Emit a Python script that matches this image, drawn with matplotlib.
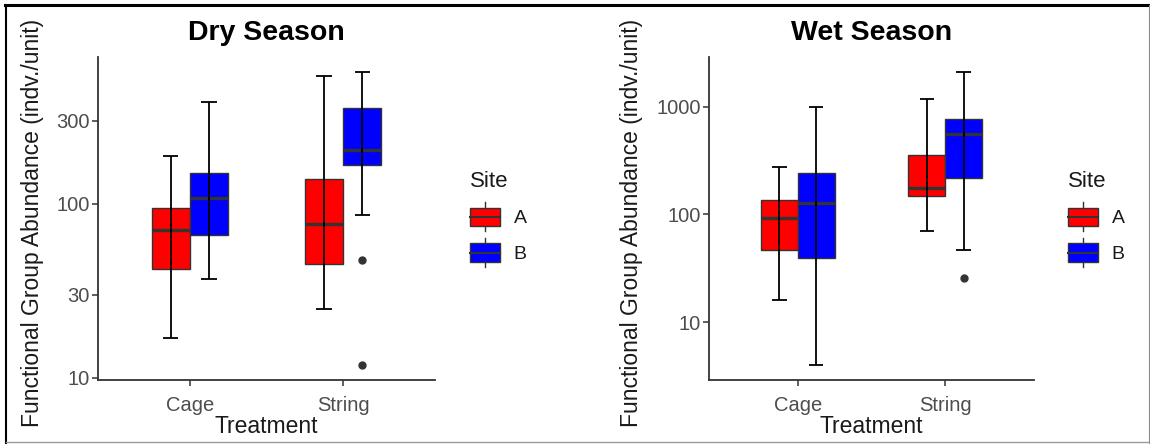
import numpy as np
import matplotlib
matplotlib.use("Agg")
from matplotlib import pyplot as plt
from matplotlib.patches import Rectangle
from matplotlib.lines import Line2D
from matplotlib.legend_handler import HandlerBase

plt.rcParams['font.family'] = ['Liberation Sans', 'DejaVu Sans']

treatments = ["Cage", "String"]
sites = ["A", "B"]
site_colors = ["#FF0000", "#0000FF"]

# Dry season, values per treatment [Cage, String]
dry_a_low = [16.9, 24.7]
dry_a_q1 = [42, 45]
dry_a_med = [71, 76]
dry_a_q3 = [94.4, 138]
dry_a_high = [188, 541]
dry_a_out = [[], []]

dry_b_low = [36.7, 86.5]
dry_b_q1 = [65.9, 166]
dry_b_med = [108, 204]
dry_b_q3 = [149, 353]
dry_b_high = [384, 572]
dry_b_out = [[], [47.2, 11.8]]

# Wet season
wet_a_low = [16.0, 70.7]
wet_a_q1 = [46.8, 149]
wet_a_med = [92.5, 176]
wet_a_q3 = [135, 358]
wet_a_high = [274, 1178]
wet_a_out = [[], []]

wet_b_low = [4.0, 47.2]
wet_b_q1 = [39.8, 218]
wet_b_med = [128, 551]
wet_b_q3 = [240, 759]
wet_b_high = [994, 2104]
wet_b_out = [[], [25.6]]

dry_yticks = [10, 30, 100, 300]
wet_yticks = [10, 100, 1000]

EDGE = '#333333'


class BoxKeyHandler(HandlerBase):
    def create_artists(self, legend, orig_handle, xdescent, ydescent,
                       width, height, fontsize, trans):
        x0, y0 = -xdescent, -ydescent
        ext = height * 0.28
        whisk = Line2D([x0 + width / 2] * 2, [y0 - ext, y0 + height + ext],
                       color=EDGE, lw=1, transform=trans)
        rect = Rectangle((x0, y0), width, height, facecolor=orig_handle.get_facecolor(),
                         edgecolor=EDGE, lw=1, transform=trans)
        med = Line2D([x0, x0 + width], [y0 + height / 2] * 2,
                     color=EDGE, lw=1.5, transform=trans)
        return [whisk, rect, med]


def make_stats(low, q1, med, q3, high, out):
    return [dict(whislo=low[i], q1=q1[i], med=med[i], q3=q3[i], whishi=high[i],
                 fliers=out[i]) for i in range(len(treatments))]


def draw_panel(ax, title, groups, yticks):
    xs = np.arange(1, len(treatments) + 1)
    allvals = []
    for j, g in enumerate(groups):
        pos = xs + (j - 0.5) * 0.25
        ax.bxp(make_stats(*g), positions=pos, widths=0.25, patch_artist=True,
               showcaps=False, manage_ticks=False,
               boxprops=dict(facecolor=site_colors[j], edgecolor=EDGE, linewidth=1),
               whiskerprops=dict(linestyle='none'),
               medianprops=dict(color=EDGE, linewidth=2.4),
               flierprops=dict(marker='o', markerfacecolor=EDGE, markeredgecolor=EDGE,
                               markersize=5))
        ax.vlines(pos, g[0], g[4], color='black', linewidth=1.3, zorder=3)
        ax.hlines(g[0], pos - 0.05, pos + 0.05, color='black', linewidth=1.3, zorder=3)
        ax.hlines(g[4], pos - 0.05, pos + 0.05, color='black', linewidth=1.3, zorder=3)
        allvals += list(g[0]) + list(g[4]) + [v for o in g[5] for v in o]
    lo, hi = np.log10(min(allvals)), np.log10(max(allvals))
    pad = 0.05 * (hi - lo)
    ax.set_yscale('log')
    ax.set_ylim(10 ** (lo - pad), 10 ** (hi + pad))
    ax.set_xlim(0.4, 2.6)
    ax.set_yticks(yticks)
    ax.set_yticklabels([str(t) for t in yticks])
    ax.minorticks_off()
    ax.set_xticks(xs)
    ax.set_xticklabels(treatments)
    for s in ['top', 'right']:
        ax.spines[s].set_visible(False)
    for s in ['left', 'bottom']:
        ax.spines[s].set_color(EDGE)
        ax.spines[s].set_linewidth(1.3)
    ax.tick_params(colors=EDGE, labelcolor='#4D4D4D', labelsize=14.5, length=4, width=1.1, pad=2)
    ax.tick_params(axis='x', pad=7.5)
    ax.set_title(title, fontsize=20.5, fontweight='bold', pad=12)
    ax.set_xlabel("Treatment", fontsize=16.5, color='#1a1a1a', labelpad=0)
    ax.set_ylabel("Functional Group Abundance (indv./unit)", fontsize=16.5, color='#1a1a1a')
    handles = [Rectangle((0, 0), 1, 1, facecolor=c, edgecolor=EDGE) for c in site_colors]
    leg = ax.legend(handles, sites, title='Site', handler_map={Rectangle: BoxKeyHandler()},
                    loc='upper left', bbox_to_anchor=(1.104, 0.648), frameon=False,
                    fontsize=14, title_fontsize=16, handlelength=1.55, handleheight=1.08,
                    labelspacing=0.82, handletextpad=0.7, borderpad=0, borderaxespad=0,
                    alignment='left')
    for t in leg.get_texts():
        t.set_color('#1a1a1a')
    leg.get_title().set_color('#1a1a1a')


fig = plt.figure(figsize=(11.5, 4.44), dpi=100)
ax1 = fig.add_axes([98 / 1150, 64 / 444, 337 / 1150, 323 / 444])
ax2 = fig.add_axes([709 / 1150, 64 / 444, 325 / 1150, 323 / 444])

draw_panel(ax1, "Dry Season",
           [(dry_a_low, dry_a_q1, dry_a_med, dry_a_q3, dry_a_high, dry_a_out),
            (dry_b_low, dry_b_q1, dry_b_med, dry_b_q3, dry_b_high, dry_b_out)],
           dry_yticks)
draw_panel(ax2, "Wet Season",
           [(wet_a_low, wet_a_q1, wet_a_med, wet_a_q3, wet_a_high, wet_a_out),
            (wet_b_low, wet_b_q1, wet_b_med, wet_b_q3, wet_b_high, wet_b_out)],
           wet_yticks)
ax1.yaxis.set_label_coords(-0.16, 0.485)
ax2.yaxis.set_label_coords(-0.203, 0.485)

# outer frame of the screenshot
fig.add_artist(Line2D([5 / 1150, 1], [1 - 5.5 / 444] * 2, color='black', lw=2.2))
fig.add_artist(Line2D([6 / 1150] * 2, [0, 1 - 5.5 / 444], color='black', lw=1.5))
fig.add_artist(Line2D([1149 / 1150] * 2, [0, 1 - 5.5 / 444], color='#888888', lw=0.8))
fig.add_artist(Line2D([6 / 1150, 1], [1 - 442 / 444] * 2, color='#999999', lw=1))

fig.savefig("out.png", dpi=100)
